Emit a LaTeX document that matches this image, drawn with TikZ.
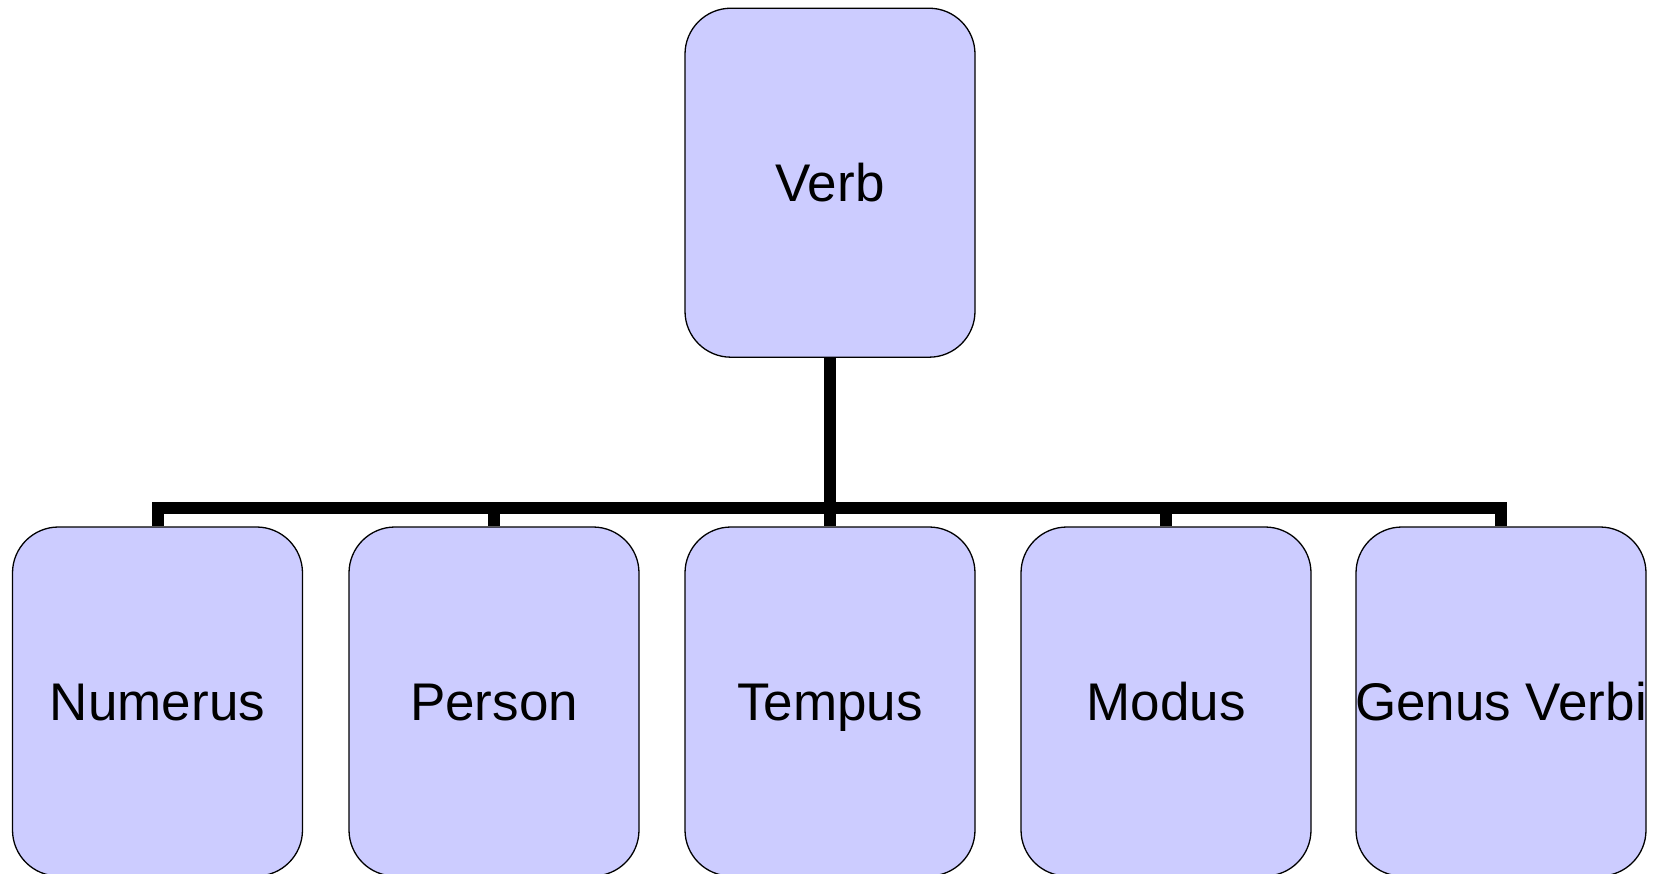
\documentclass[tikz,border=0pt]{standalone}
\usepackage{fontspec}
\setmainfont{Liberation Sans}
\begin{document}
\begin{tikzpicture}[x=1pt,y=-1pt,
  box/.style={draw=black, line width=1.3pt, fill=boxfill, rounded corners=46pt,
    minimum width=290pt, minimum height=349pt, inner sep=0pt,
    text height=37pt, text depth=0pt,
    font=\fontsize{53}{62}\selectfont, text=black},
  conn/.style={line width=12pt, line cap=butt, line join=miter, draw=black}]
\definecolor{boxfill}{HTML}{CCCCFF}
\useasboundingbox (0,0) rectangle (1659,873);
\clip (0,0) rectangle (1659,873);
\fill[white] (0,0) rectangle (1659,873);
\node[box] (verb) at (830,182.7) {Verb};
\node[box] (c1) at (157.5,701.5) {Numerus};
\node[box] (c2) at (494,701.5) {Person};
\node[box] (c3) at (830,701.5) {Tempus};
\node[box] (c4) at (1166,701.5) {Modus};
\node[box] (c5) at (1501,701.5) {\makebox[0pt]{Genus Verbi}};
\foreach \c in {c1,c2,c3,c4,c5}{
  \draw[conn] (verb.south) -- ++(0,150) -| (\c.north);
}
\end{tikzpicture}
\end{document}
